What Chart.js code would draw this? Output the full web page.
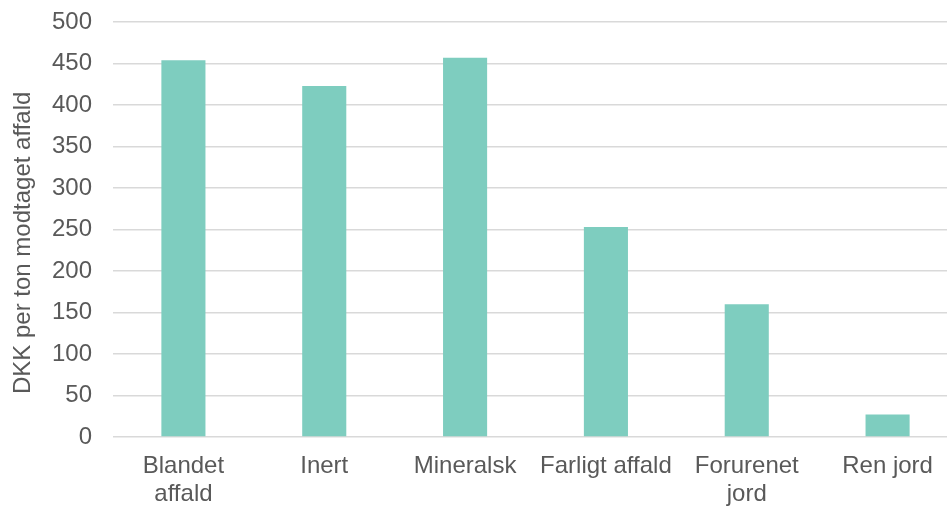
<!DOCTYPE html>
<html>
<head>
<meta charset="utf-8">
<script src="https://cdn.jsdelivr.net/npm/chart.js@4/dist/chart.umd.min.js"></script>
<style>
  html, body { margin: 0; padding: 0; background: #fff; overflow: hidden; }
  #wrap { width: 947px; height: 506px; overflow: hidden; }
</style>
</head>
<body>
<!-- canvas is a bit wider than the window: the plot runs off the right edge like the original -->
<div id="wrap"><canvas id="myChart" width="958" height="506"></canvas></div>
<script>
var categories = [['Blandet', 'affald'], 'Inert', 'Mineralsk', 'Farligt affald', ['Forurenet', 'jord'], 'Ren jord'];
var costPerTon = [454, 423, 457, 253, 160, 27];
var yTicks = [0, 50, 100, 150, 200, 250, 300, 350, 400, 450, 500];
var yTitle = 'DKK per ton modtaget affald';

var textColor = '#595959';
var fontFamily = '"Liberation Sans", Arial, sans-serif';

window.onload = function() {
  var ctx = document.getElementById('myChart').getContext('2d');
  new Chart(ctx, {
    type: 'bar',
    data: {
      labels: categories,
      datasets: [{
        data: costPerTon,
        backgroundColor: '#7ecdbf',
        borderWidth: 0,
        categoryPercentage: 1,
        barPercentage: 0.313
      }]
    },
    options: {
      responsive: false,
      animation: false,
      layout: { padding: { top: 22, left: 0, right: 0, bottom: 0 } },
      plugins: { legend: { display: false }, tooltip: { enabled: false } },
      scales: {
        x: {
          grid: { display: false, drawTicks: false },
          border: { display: false },
          ticks: {
            color: textColor,
            padding: 15,
            maxRotation: 0,
            autoSkip: false,
            font: { family: fontFamily, size: 24, lineHeight: 1.17 }
          },
          afterFit: function(scale) {
            scale.height = 69;
            scale.paddingLeft = 0;
            scale.paddingRight = 0;
          }
        },
        y: {
          min: yTicks[0],
          max: yTicks[yTicks.length - 1],
          afterBuildTicks: function(scale) {
            scale.ticks = yTicks.map(function(v) { return { value: v }; });
          },
          grid: { color: '#d9d9d9', lineWidth: 1.5, drawTicks: false },
          border: { display: false },
          ticks: {
            color: textColor,
            padding: 21,
            font: { family: fontFamily, size: 24 }
          },
          title: {
            display: true,
            // trailing spaces nudge the rotated title down a little, as in the original
            text: yTitle + '    ',
            color: textColor,
            padding: { top: 9, bottom: 0 },
            font: { family: fontFamily, size: 24, lineHeight: 1.2 }
          },
          afterFit: function(scale) {
            scale.width = 113;
            scale.paddingTop = 0;
            scale.paddingBottom = 0;
          }
        }
      }
    }
  });
};
</script>
</body>
</html>
